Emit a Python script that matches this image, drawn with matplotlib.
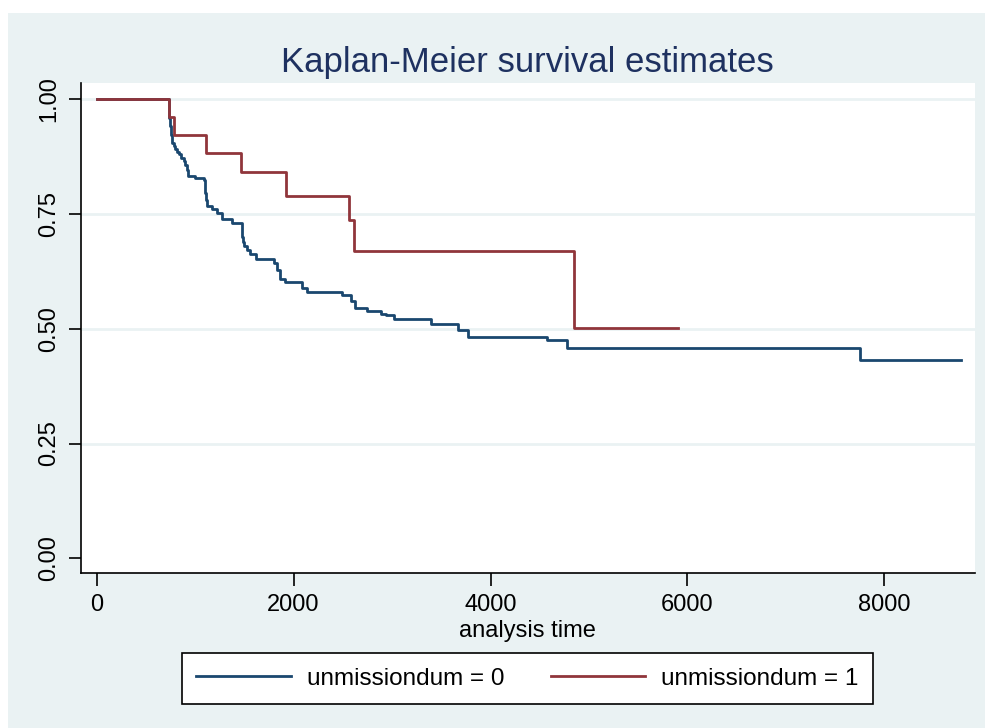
import numpy as np
import matplotlib.pyplot as plt
from matplotlib.patches import Rectangle

plt.rcParams['font.family'] = ['Liberation Sans', 'DejaVu Sans']

### Kaplan-Meier step values
# unmissiondum = 0
t0 = [0, 737, 742, 748, 756, 765, 780, 799, 815, 832, 860, 883, 900, 917, 928, 1000, 1094,
      1104, 1112, 1121, 1172, 1223, 1274, 1375, 1477, 1485, 1494, 1530, 1562, 1613, 1798,
      1833, 1860, 1917, 2087, 2138, 2494, 2586, 2620, 2748, 2883, 2934, 3019, 3393, 3671,
      3767, 4569, 4777, 7753, 8780]
s0 = [1.0, 0.960, 0.951, 0.942, 0.923, 0.905, 0.898, 0.891, 0.885, 0.880, 0.872, 0.865,
      0.856, 0.847, 0.833, 0.829, 0.825, 0.796, 0.781, 0.767, 0.760, 0.753, 0.740, 0.731,
      0.701, 0.690, 0.680, 0.672, 0.662, 0.651, 0.643, 0.629, 0.609, 0.601, 0.589, 0.581,
      0.574, 0.560, 0.545, 0.539, 0.533, 0.531, 0.521, 0.511, 0.498, 0.482, 0.475, 0.458,
      0.432, 0.432]

# unmissiondum = 1
t1 = [0, 737, 782, 1111, 1470, 1925, 2566, 2616, 4851, 5905]
s1 = [1.0, 0.962, 0.923, 0.884, 0.841, 0.789, 0.737, 0.669, 0.502, 0.502]

labels = ['unmissiondum = 0', 'unmissiondum = 1']
xticks = [0, 2000, 4000, 6000, 8000]
yticks = [0.00, 0.25, 0.50, 0.75, 1.00]

navy = '#1A476F'
maroon = '#90353B'
bg = '#EAF2F3'
title_col = '#1E3160'

fig = plt.figure(figsize=(9.85, 7.28), dpi=100, facecolor='white')
fig.patches.append(Rectangle((8/985, 0), 1 - 8/985, 1 - 13/728,
                             transform=fig.transFigure, facecolor=bg,
                             edgecolor='none', zorder=-5))

ax = fig.add_axes([0.0819, 0.2125, 0.9079, 0.6731])
ax.set_facecolor('white')

for yv in yticks[1:]:
    ax.axhline(yv, color=bg, lw=2, zorder=1)

ax.step(t0, s0, where='post', color=navy, lw=2, label=labels[0], zorder=3)
ax.step(t1, s1, where='post', color=maroon, lw=2, label=labels[1], zorder=3)

ax.set_xlim(-163, 8921)
ax.set_ylim(-0.0327, 1.0349)
ax.set_xticks(xticks)
ax.set_xticklabels([str(v) for v in xticks])
ax.set_yticks(yticks)
ax.set_yticklabels(['%.2f' % v for v in yticks], rotation=90, va='center')

for side in ['top', 'right']:
    ax.spines[side].set_visible(False)
for side in ['left', 'bottom']:
    ax.spines[side].set_color('black')
    ax.spines[side].set_linewidth(1.2)
ax.tick_params(direction='out', length=9, width=1.2, labelsize=17, pad=6)

ax.set_xlabel('analysis time', fontsize=17, labelpad=3)
ax.set_title('Kaplan-Meier survival estimates', fontsize=25, color=title_col, pad=8)

leg = fig.legend(loc='center', bbox_to_anchor=(527.5/985, 1 - 678.5/728), ncol=2,
                 fontsize=17.5, frameon=True, fancybox=False, handlelength=3.9,
                 columnspacing=1.9, borderpad=0.58, handletextpad=0.66)
leg.get_frame().set_edgecolor('black')
leg.get_frame().set_linewidth(1.2)
leg.get_frame().set_facecolor('white')
leg.get_frame().set_alpha(1)

fig.savefig('out.png', dpi=100, facecolor=fig.get_facecolor())
